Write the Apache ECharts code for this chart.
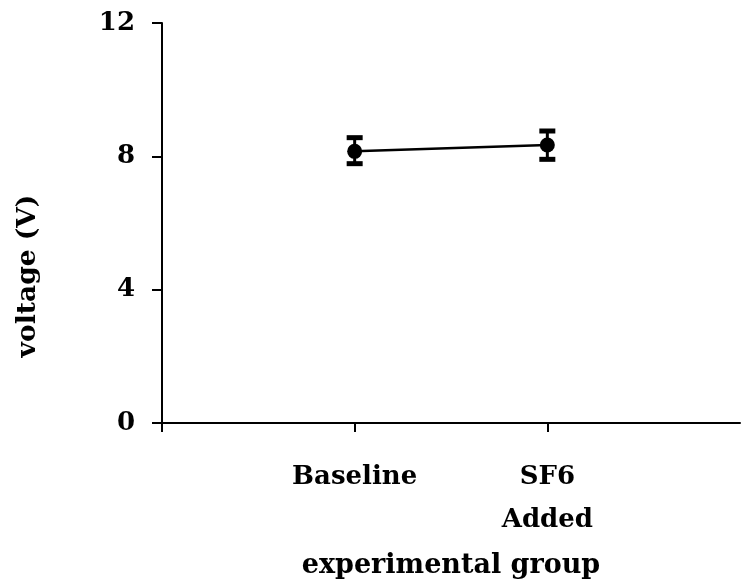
<!DOCTYPE html>
<html>
<head>
<meta charset="utf-8">
<script src="https://cdn.jsdelivr.net/npm/echarts@6/dist/echarts.min.js"></script>
<style>html,body{margin:0;padding:0;background:#fff;}#c{width:743px;height:588px;}</style>
</head>
<body>
<div id="c"></div>
<script>
const categories = ['', 'Baseline', 'SF6\nAdded', ''];
const meanValues = [null, 8.15, 8.34, null];
const errLow = [null, 7.78, 7.91, null];
const errHigh = [null, 8.56, 8.76, null];
const yTicks = [0, 4, 8, 12];

const FONT = 'DejaVu Serif';
const chart = echarts.init(document.getElementById('c'));

const errData = [];
for (let i = 0; i < categories.length; i++) {
  if (meanValues[i] != null) errData.push([i, errLow[i], errHigh[i]]);
}

chart.setOption({
  animation: false,
  backgroundColor: '#fff',
  grid: { left: 162, top: 23, right: 0, bottom: 165 },
  xAxis: {
    type: 'category',
    data: categories,
    boundaryGap: false,
    name: 'experimental group',
    nameLocation: 'middle',
    nameGap: 129,
    nameTextStyle: { fontFamily: FONT, fontWeight: 'bold', fontSize: 27, color: '#000' },
    axisLine: { lineStyle: { color: '#000', width: 2 } },
    axisTick: { show: true, length: 9, lineStyle: { color: '#000', width: 2 },
      interval: function (i) { return i < 3; } },
    axisLabel: { fontFamily: FONT, fontWeight: 'bold', fontSize: 26, color: '#000',
      margin: 33, lineHeight: 43, interval: 0 },
    splitLine: { show: false }
  },
  yAxis: {
    type: 'value',
    min: 0, max: 12, interval: 4,
    name: 'voltage (V)',
    nameLocation: 'middle',
    nameGap: 120,
    nameTextStyle: { fontFamily: FONT, fontWeight: 'bold', fontSize: 26.5, color: '#000',
      padding: [0, 106, 0, 0] },
    axisLine: { show: true, lineStyle: { color: '#000', width: 2 } },
    axisTick: { show: true, length: 10, lineStyle: { color: '#000', width: 2 } },
    axisLabel: { fontFamily: FONT, fontWeight: 'bold', fontSize: 26, color: '#000', margin: 27,
      formatter: function (v) { return yTicks.indexOf(v) >= 0 ? String(v) : ''; } },
    splitLine: { show: false }
  },
  series: [
    {
      type: 'line',
      data: meanValues,
      symbol: 'circle',
      symbolSize: 15,
      itemStyle: { color: '#000' },
      lineStyle: { color: '#000', width: 2.5 },
      connectNulls: false,
      z: 3
    },
    {
      type: 'custom',
      data: errData,
      z: 4,
      renderItem: function (params, api) {
        const x = api.value(0);
        const lo = api.coord([x, api.value(1)]);
        const hi = api.coord([x, api.value(2)]);
        const hw = 8;
        const style = { stroke: '#000', lineWidth: 3 };
        const capStyle = { stroke: '#000', lineWidth: 5 };
        return {
          type: 'group',
          children: [
            { type: 'line', shape: { x1: lo[0], y1: lo[1], x2: hi[0], y2: hi[1] }, style: style },
            { type: 'line', shape: { x1: lo[0] - hw, y1: lo[1], x2: lo[0] + hw, y2: lo[1] }, style: capStyle },
            { type: 'line', shape: { x1: hi[0] - hw, y1: hi[1], x2: hi[0] + hw, y2: hi[1] }, style: capStyle }
          ]
        };
      }
    }
  ]
});
</script>
</body>
</html>
